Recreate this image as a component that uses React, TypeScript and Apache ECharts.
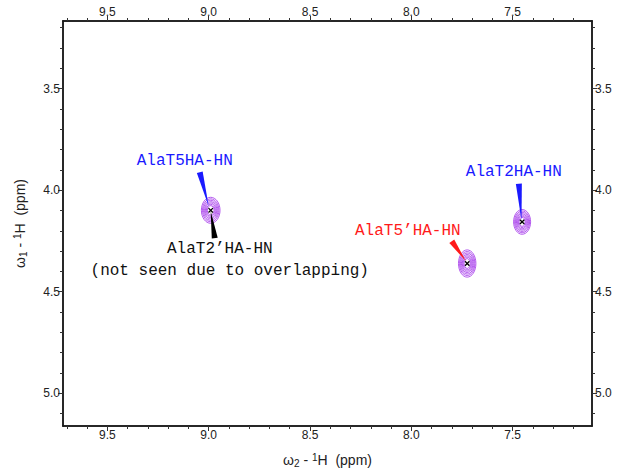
import React, { useEffect, useRef } from "react";
import * as echarts from "echarts";

// Spectral window (ppm); both axes run high-to-low as usual for NMR
const W2_RANGE = [7.108, 9.719];
const W1_RANGE = [3.167, 5.161];

const w2MajorTicks = [7.5, 8.0, 8.5, 9.0, 9.5];
const w2MinorTicks = [7.2, 7.3, 7.4, 7.6, 7.7, 7.8, 7.9, 8.1, 8.2, 8.3, 8.4, 8.6, 8.7, 8.8, 8.9, 9.1, 9.2, 9.3, 9.4, 9.6, 9.7];
const w1MajorTicks = [3.5, 4.0, 4.5, 5.0];
const w1MinorTicks = [3.2, 3.3, 3.4, 3.6, 3.7, 3.8, 3.9, 4.1, 4.2, 4.3, 4.4, 4.6, 4.7, 4.8, 4.9, 5.1];

// Cross peaks: position and half-width of the outermost contour (ppm)
const peakW2 = [8.99, 7.724, 7.453];
const peakW1 = [4.099, 4.361, 4.156];
const peakHalfW2 = [0.046, 0.043, 0.042];
const peakHalfW1 = [0.064, 0.067, 0.061];
const contourLevels = [1.0, 0.88, 0.77, 0.66, 0.56, 0.46, 0.36];

// Assignment labels
const labelText = ["AlaT5HA-HN", "AlaT2\u2019HA-HN", "(not seen due to overlapping)", "AlaT5\u2019HA-HN", "AlaT2HA-HN"];
const labelColor = ["#1a1aff", "#111111", "#111111", "#ff1a1a", "#1a1aff"];
const labelW2 = [9.118, 8.945, 8.896, 8.017, 7.494];
const labelW1 = [3.858, 4.29, 4.399, 4.202, 3.912];

// Wedge pointers from label to peak: [from ω2, from ω1, to ω2, to ω1]
const pointerColor = ["#1a1aff", "#000000", "#ff1a1a", "#1a1aff"];
const pointerFromW2 = [9.044, 8.97, 7.8, 7.469];
const pointerFromW1 = [3.912, 4.236, 4.251, 3.968];
const pointerToW2 = [9.0, 8.99, 7.731, 7.456];
const pointerToW1 = [4.079, 4.104, 4.349, 4.148];

const SANS = '"Liberation Sans", Arial, sans-serif';
const MONO = '"Liberation Mono", "Courier New", monospace';
const CONTOUR = "#a63ceb";

const fmt = (v: number) => v.toFixed(1);

function w2Axis(position: "top" | "bottom", ticks: number[], len: number, labels: boolean, extra: any = {}) {
  return {
    type: "value",
    position,
    inverse: true,
    min: W2_RANGE[0],
    max: W2_RANGE[1],
    axisLine: { show: true, onZero: false, lineStyle: { color: "#1a1a1a", width: 1.5 } },
    axisTick: { show: true, inside: false, length: len, customValues: ticks, lineStyle: { color: "#333", width: 1 } },
    axisLabel: labels
      ? { show: true, customValues: ticks, formatter: fmt, margin: 3, fontFamily: SANS, fontSize: 12, color: "#222" }
      : { show: false },
    splitLine: { show: false },
    ...extra,
  };
}

function w1Axis(position: "left" | "right", ticks: number[], len: number, labels: boolean, extra: any = {}) {
  return {
    type: "value",
    position,
    inverse: true,
    min: W1_RANGE[0],
    max: W1_RANGE[1],
    axisLine: { show: true, onZero: false, lineStyle: { color: "#1a1a1a", width: 1.5 } },
    axisTick: { show: true, inside: false, length: len, customValues: ticks, lineStyle: { color: "#333", width: 1 } },
    axisLabel: labels
      ? { show: true, customValues: ticks, formatter: fmt, margin: 3, fontFamily: SANS, fontSize: 12, color: "#222" }
      : { show: false },
    splitLine: { show: false },
    ...extra,
  };
}

const nameRich = {
  w: { fontFamily: SANS, fontSize: 14, color: "#222", lineHeight: 16 },
  sub: { fontFamily: SANS, fontSize: 10, color: "#222", lineHeight: 16, verticalAlign: "bottom" },
  sup: { fontFamily: SANS, fontSize: 10, color: "#222", lineHeight: 16, verticalAlign: "top" },
};

export default function App() {
  const ref = useRef<HTMLDivElement>(null);

  useEffect(() => {
    document.body.style.margin = "0";
    if (!ref.current) return;
    const chart = echarts.init(ref.current, null, { renderer: "svg" });

    const peaks = peakW2.map((x, i) => [x, peakW1[i], peakHalfW2[i], peakHalfW1[i]]);
    const pointers = pointerFromW2.map((x, i) => [x, pointerFromW1[i], pointerToW2[i], pointerToW1[i]]);
    const labels = labelW2.map((x, i) => [x, labelW1[i]]);

    chart.setOption({
      animation: false,
      backgroundColor: "#ffffff",
      grid: { left: 63, right: 29, top: 21, bottom: 45, containLabel: false, outerBoundsMode: "none" },
      xAxis: [
        w2Axis("bottom", w2MajorTicks, 5, true, {
          name: "{w|\u03c9}{sub|2}{w| - }{sup|1}{w|H  (ppm)}",
          nameLocation: "middle",
          nameGap: 26,
          nameTextStyle: { rich: nameRich },
        }),
        w2Axis("bottom", w2MinorTicks, 3, false),
        w2Axis("top", w2MajorTicks, 5, true),
        w2Axis("top", w2MinorTicks, 3, false),
      ],
      yAxis: [
        w1Axis("left", w1MajorTicks, 5, true, {
          name: "{w|\u03c9}{sub|1}{w| - }{sup|1}{w|H  (ppm)}",
          nameLocation: "middle",
          nameGap: 35,
          nameRotate: 90,
          nameTextStyle: { rich: nameRich },
        }),
        w1Axis("left", w1MinorTicks, 3, false),
        w1Axis("right", w1MajorTicks, 5, true),
        w1Axis("right", w1MinorTicks, 3, false),
      ],
      series: [
        {
          type: "custom",
          name: "contours",
          xAxisIndex: 0,
          yAxisIndex: 0,
          data: peaks,
          encode: { x: 0, y: 1 },
          renderItem: (params: any, api: any) => {
            const c = api.coord([api.value(0), api.value(1)]);
            const s = api.size([api.value(2), api.value(3)], [api.value(0), api.value(1)]);
            const rx = Math.abs(s[0]);
            const ry = Math.abs(s[1]);
            const children: any[] = contourLevels.map((k) => ({
              type: "ellipse",
              shape: { cx: c[0], cy: c[1], rx: rx * k, ry: ry * k },
              style: { fill: "none", stroke: CONTOUR, lineWidth: 0.85 },
            }));
            const m = 2.2;
            children.push({
              type: "line",
              shape: { x1: c[0] - m, y1: c[1] - m, x2: c[0] + m, y2: c[1] + m },
              style: { stroke: "#000", lineWidth: 1.3 },
            });
            children.push({
              type: "line",
              shape: { x1: c[0] - m, y1: c[1] + m, x2: c[0] + m, y2: c[1] - m },
              style: { stroke: "#000", lineWidth: 1.3 },
            });
            return { type: "group", children };
          },
        },
        {
          type: "custom",
          name: "pointers",
          xAxisIndex: 0,
          yAxisIndex: 0,
          data: pointers,
          encode: { x: [0, 2], y: [1, 3] },
          renderItem: (params: any, api: any) => {
            const a = api.coord([api.value(0), api.value(1)]);
            const b = api.coord([api.value(2), api.value(3)]);
            const dx = b[0] - a[0];
            const dy = b[1] - a[1];
            const len = Math.hypot(dx, dy) || 1;
            const nx = -dy / len;
            const ny = dx / len;
            const hw = 3;
            return {
              type: "polygon",
              shape: {
                points: [
                  [a[0] + nx * hw, a[1] + ny * hw],
                  [a[0] - nx * hw, a[1] - ny * hw],
                  [b[0], b[1]],
                ],
              },
              style: { fill: pointerColor[params.dataIndex], stroke: "none" },
            };
          },
        },
        {
          type: "custom",
          name: "labels",
          xAxisIndex: 0,
          yAxisIndex: 0,
          data: labels,
          encode: { x: 0, y: 1 },
          renderItem: (params: any, api: any) => {
            const c = api.coord([api.value(0), api.value(1)]);
            return {
              type: "text",
              x: c[0],
              y: c[1],
              style: {
                text: labelText[params.dataIndex],
                fill: labelColor[params.dataIndex],
                font: `16px ${MONO}`,
                align: "center",
                verticalAlign: "middle",
              },
            };
          },
        },
      ],
    });

    return () => chart.dispose();
  }, []);

  return <div ref={ref} style={{ width: 621, height: 471 }} />;
}
